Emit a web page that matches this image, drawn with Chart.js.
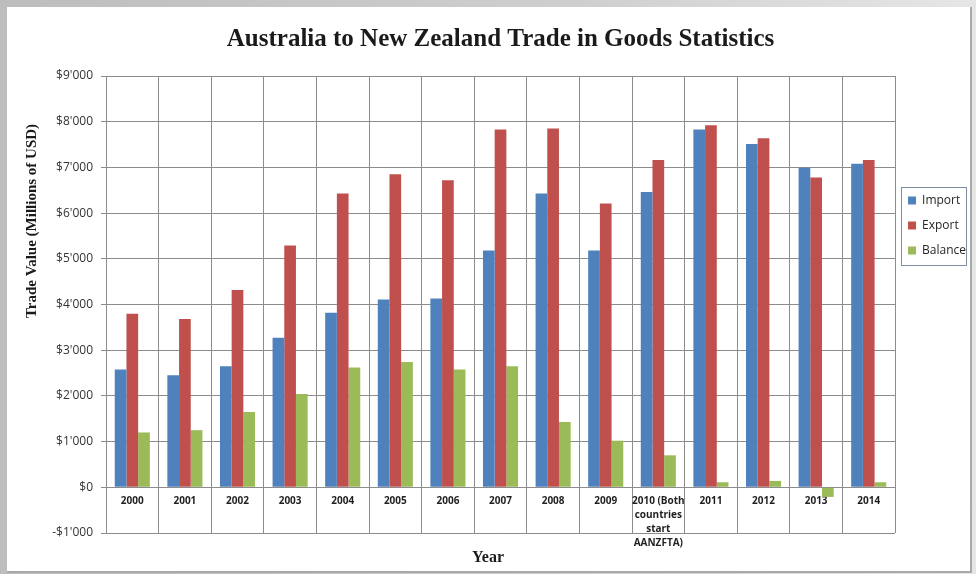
<!DOCTYPE html>
<html>
<head>
<meta charset="utf-8">
<title>Australia to New Zealand Trade in Goods Statistics</title>
<script src="https://cdn.jsdelivr.net/npm/chart.js@4/dist/chart.umd.min.js"></script>
<style>
  html, body { margin: 0; padding: 0; }
  body { width: 976px; height: 574px; position: relative; overflow: hidden;
         background: linear-gradient(90deg, #bdbdbd 0%, #cfcfcf 60%, #e6e6e6 100%); }
  #panel { position: absolute; left: 7px; top: 7px; width: 963px; height: 564px;
           background: #ffffff; box-shadow: 1px 1px 0 1px #a9a9a9; }
  #chart { position: absolute; left: 0; top: 0; }
</style>
</head>
<body>
<div id="panel"></div>
<canvas id="chart" width="976" height="574"></canvas>
<script>
// Trade in goods, Australia -> New Zealand, millions of USD
const years = ['2000', '2001', '2002', '2003', '2004', '2005', '2006', '2007', '2008', '2009',
  ['2010 (Both', 'countries', 'start', 'AANZFTA)'], '2011', '2012', '2013', '2014'];
const importValues  = [2580, 2450, 2650, 3270, 3820, 4110, 4130, 5180, 6430, 5180, 6460, 7830, 7510, 6990, 7080];
const exportValues  = [3800, 3680, 4320, 5290, 6430, 6850, 6720, 7830, 7850, 6210, 7160, 7920, 7640, 6780, 7160];
const balanceValues = [1200, 1250, 1650, 2040, 2620, 2740, 2580, 2650, 1430, 1020, 700, 110, 140, -210, 110];

const seriesNames = ['Import', 'Export', 'Balance'];
const seriesColors = ['#4f81bd', '#c0504d', '#9bbb59'];
const yAxisRange = { min: -1000, max: 9000, step: 1000 };

const chartTitle = 'Australia to New Zealand Trade in Goods Statistics';
const xAxisTitle = 'Year';
const yAxisTitle = 'Trade Value (Millions of USD)';

const gridColor = '#8c8c8c';

function dollarLabel(v) {
  const abs = Math.abs(v);
  const s = abs >= 1000 ? Math.floor(abs / 1000) + "'" + String(abs % 1000).padStart(3, '0') : String(abs);
  return (v < 0 ? '-$' : '$') + s;
}

// Rotated value-axis caption, placed beside the tick labels
const yTitlePlugin = {
  id: 'yTitle',
  afterDraw(chart) {
    const ctx = chart.ctx;
    ctx.save();
    ctx.translate(32, 221);
    ctx.rotate(-Math.PI / 2);
    ctx.font = 'bold 15px "Liberation Serif"';
    ctx.fillStyle = '#1a1a1a';
    ctx.textAlign = 'center';
    ctx.textBaseline = 'middle';
    ctx.fillText(yAxisTitle, 0, 0);
    ctx.restore();
  }
};

// Thin frame around the legend entries
const legendFramePlugin = {
  id: 'legendFrame',
  afterDraw(chart) {
    const boxes = chart.legend && chart.legend.legendHitBoxes;
    if (!boxes || !boxes.length) return;
    const left = Math.min(...boxes.map(b => b.left)) - 7;
    const top = Math.min(...boxes.map(b => b.top)) - 7.5;
    const bottom = Math.max(...boxes.map(b => b.top + b.height)) + 8.5;
    const right = left + 65;
    const ctx = chart.ctx;
    ctx.save();
    ctx.strokeStyle = '#7f8ea3';
    ctx.lineWidth = 1;
    ctx.strokeRect(Math.round(left) + 0.5, Math.round(top) + 0.5, Math.round(right - left), Math.round(bottom - top));
    ctx.restore();
  }
};

const datasets = [importValues, exportValues, balanceValues].map((values, i) => ({
  label: seriesNames[i],
  data: values,
  backgroundColor: seriesColors[i],
  borderWidth: 0,
  categoryPercentage: 0.667,
  barPercentage: 1.0
}));

new Chart(document.getElementById('chart'), {
  type: 'bar',
  data: { labels: years, datasets },
  plugins: [yTitlePlugin, legendFramePlugin],
  options: {
    responsive: false,
    animation: false,
    devicePixelRatio: 1,
    layout: { padding: { left: 0, right: 0, top: 0, bottom: 0 } },
    plugins: {
      tooltip: { enabled: false },
      title: {
        display: true,
        text: chartTitle,
        fullSize: false,
        color: '#1a1a1a',
        font: { family: '"Liberation Serif"', size: 25, weight: 'bold', lineHeight: 1.2 },
        padding: { top: 25, bottom: 21 }
      },
      subtitle: {
        display: true,
        text: xAxisTitle,
        position: 'bottom',
        color: '#1a1a1a',
        font: { family: '"Liberation Serif"', size: 16, weight: 'bold', lineHeight: 1.2 },
        padding: { top: 15.4, bottom: 6.4 }
      },
      legend: {
        display: true,
        position: 'right',
        align: 'start',
        fullSize: false,
        title: { display: true, text: ' ', font: { size: 11, lineHeight: 1.2 }, padding: { top: 92, bottom: 0.3 } },
        labels: {
          boxWidth: 8,
          boxHeight: 8,
          padding: 13,
          color: '#262626',
          font: { family: '"Open Sans"', size: 12 }
        }
      }
    },
    scales: {
      x: {
        position: { y: 0 },
        grid: { color: gridColor, lineWidth: 1, drawTicks: false, offset: true },
        border: { display: false },
        ticks: {
          autoSkip: false,
          maxRotation: 0,
          minRotation: 0,
          padding: 7,
          color: '#1f1f1f',
          font: { family: '"Open Sans"', size: 10, weight: 'bold', lineHeight: 1.4 }
        },
        afterFit: (scale) => { scale.height = 0; }
      },
      y: {
        min: yAxisRange.min,
        max: yAxisRange.max,
        grid: { color: gridColor, lineWidth: 1, tickLength: 5 },
        border: { color: gridColor },
        ticks: {
          stepSize: yAxisRange.step,
          padding: 8,
          color: '#333333',
          font: { family: '"Open Sans"', size: 12 },
          callback: (v) => dollarLabel(v)
        },
        afterFit: (scale) => { scale.width = 106; }
      }
    }
  }
});
</script>
</body>
</html>
